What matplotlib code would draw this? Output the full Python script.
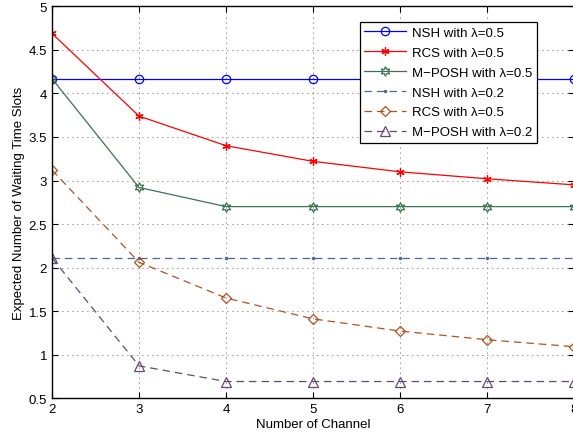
import numpy as np
import matplotlib.pyplot as plt

plt.rcParams['font.family'] = ['Liberation Sans', 'DejaVu Sans']

channels = [2, 3, 4, 5, 6, 7, 8]
nsh_05 = [4.17, 4.17, 4.17, 4.17, 4.17, 4.17, 4.17]
rcs_05 = [4.69, 3.74, 3.40, 3.22, 3.10, 3.02, 2.95]
mposh_05 = [4.17, 2.92, 2.70, 2.70, 2.70, 2.70, 2.70]
nsh_02 = [2.11, 2.11, 2.11, 2.11, 2.11, 2.11, 2.11]
rcs_02 = [3.12, 2.06, 1.65, 1.41, 1.27, 1.17, 1.09]
mposh_02 = [2.11, 0.87, 0.69, 0.69, 0.69, 0.69, 0.69]

labels = ['NSH with λ=0.5', 'RCS with λ=0.5', 'M−POSH with λ=0.5',
          'NSH with λ=0.2', 'RCS with λ=0.5', 'M−POSH with λ=0.2']

fig = plt.figure(figsize=(5.73, 4.39), dpi=100)
ax = fig.add_axes([0.0908, 0.091, 0.911, 0.892])

ax.plot(channels, nsh_05, '-', color='#0000ff', lw=0.9, marker='o',
        ms=6, mfc='none', mew=0.9, label=labels[0])
ax.plot(channels, rcs_05, '-', color='#ff0000', lw=0.9, marker=(6, 2, 0),
        ms=6, mew=0.9, label=labels[1])
ax.plot(channels, mposh_05, '-', color='#3c7352', lw=0.9, marker=(6, 1, 0),
        ms=7, mfc='none', mew=0.9, label=labels[2])
ax.plot(channels, nsh_02, '--', color='#4a679a', lw=0.9, marker='.',
        ms=3, dashes=(6, 4), label=labels[3])
ax.plot(channels, rcs_02, '--', color='#b0521e', lw=0.9, marker='D',
        ms=5.5, mfc='none', mew=0.9, dashes=(6, 4), label=labels[4])
ax.plot(channels, mposh_02, '--', color='#634a70', lw=0.9, marker='^',
        ms=6.5, mfc='none', mew=0.9, dashes=(6, 4), label=labels[5])

ax.set_xlim(2, 8)
ax.set_ylim(0.5, 5)
ax.set_xticks(channels)
ax.set_yticks(np.arange(0.5, 5.01, 0.5))
ax.set_yticklabels(['0.5', '1', '1.5', '2', '2.5', '3', '3.5', '4', '4.5', '5'])
ax.tick_params(direction='in', labelsize=9.5, top=True, right=True, length=4)
ax.grid(True, linestyle=(0, (1, 5)), color='#333333', lw=0.6)
for s in ax.spines.values():
    s.set_linewidth(1.0)

ax.set_xlabel('Number of Channel', fontsize=9.5, labelpad=2)
ax.set_ylabel('Expected Number of Waiting Time Slots', fontsize=9.5, labelpad=3)

leg = ax.legend(loc='upper right', bbox_to_anchor=(0.941, 0.977), fontsize=9.5,
                fancybox=False, edgecolor='black', framealpha=1,
                handlelength=3.2, borderpad=0.35, labelspacing=0.58,
                handletextpad=0.4)
leg.get_frame().set_linewidth(0.9)

fig.savefig('out.png', dpi=100)
